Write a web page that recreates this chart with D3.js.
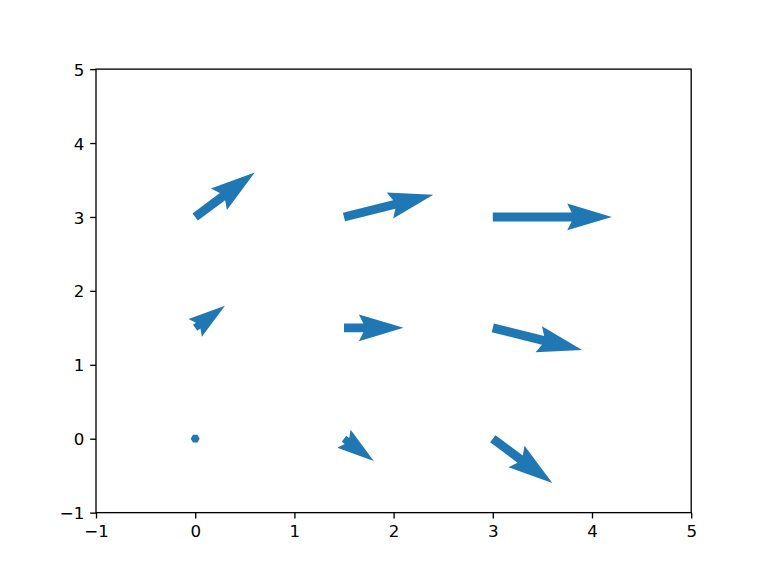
<!DOCTYPE html>
<html>
<head>
<meta charset="utf-8">
<script src="https://cdn.jsdelivr.net/npm/d3@7"></script>
<style>
  html, body { margin: 0; padding: 0; background: #fff; }
  svg { display: block; }
</style>
</head>
<body>
<svg id="chart" width="768" height="576"></svg>
<script>
// Quiver data: tail positions and vector components
const xs = [0, 1.5, 3, 0, 1.5, 3, 0, 1.5, 3];
const ys = [0, 0, 0, 1.5, 1.5, 1.5, 3, 3, 3];
const us = [0, 0.3, 0.6, 0.3, 0.6, 0.9, 0.6, 0.9, 1.2];
const vs = [0, -0.3, -0.6, 0.3, 0, -0.3, 0.6, 0.3, 0];
const xTicks = [-1, 0, 1, 2, 3, 4, 5];
const yTicks = [-1, 0, 1, 2, 3, 4, 5];

(function () {
const W = 768, H = 576;
const padL = 0.125 * W, padR = 0.9 * W, padT = H * (1 - 0.88), padB = H * (1 - 0.11);
const svg = d3.select("#chart");

const x = d3.scaleLinear().domain([-1, 5]).range([padL, padR]);
const y = d3.scaleLinear().domain([-1, 5]).range([padB, padT]);

const color = "#1f77b4";
const shaftW = 0.015 * (padR - padL);
const headwidth = 3, headlength = 5, headaxislength = 4.5, minshaft = 1, minlength = 1;

function arrowPoints(i) {
  const x0 = x(xs[i]), y0 = y(ys[i]);
  const dx = x(xs[i] + us[i]) - x0, dy = y(ys[i] + vs[i]) - y0;
  const L = Math.hypot(dx, dy) / shaftW;
  const ang = Math.atan2(dy, dx);
  let pts;
  const minsh = minshaft * headlength;
  const ii = [0, 1, 2, 3, 2, 1, 0, 0];
  const by = [0.5, 0.5, 0.5 * headwidth, 0];
  if (L < minlength) {
    pts = d3.range(8).map(k => [Math.cos(k * Math.PI / 3) * minlength * 0.5, Math.sin(k * Math.PI / 3) * minlength * 0.5]);
  } else if (L < minsh) {
    const s = L / minsh;
    const bx = [0, minsh - headaxislength, minsh - headlength, minsh];
    pts = ii.map((k, j) => [bx[k] * s, (j >= 3 && j < 7 ? -1 : 1) * by[k] * s]);
  } else {
    const bx = [0, L - headaxislength, L - headlength, L];
    pts = ii.map((k, j) => [bx[k], (j >= 3 && j < 7 ? -1 : 1) * by[k]]);
  }
  const c = Math.cos(ang), s = Math.sin(ang);
  return pts.map(([px, py]) => [x0 + (px * c - py * s) * shaftW, y0 + (px * s + py * c) * shaftW]);
}

svg.append("g")
  .selectAll("path")
  .data(d3.range(xs.length))
  .join("path")
  .attr("d", i => "M" + arrowPoints(i).map(p => p[0] + "," + p[1]).join("L") + "Z")
  .attr("fill", color)
  .attr("stroke", "none");

const fontSize = 16.67, tickLen = 5.83, pad = 5.83, lw = 1.33;
const fmt = d => d < 0 ? "\u2212" + Math.abs(d) : String(d);

const xAxis = svg.append("g").attr("transform", `translate(0,${padB})`)
  .call(d3.axisBottom(x).tickValues(xTicks).tickFormat(fmt).tickSize(tickLen).tickPadding(pad).tickSizeOuter(0));
const yAxis = svg.append("g").attr("transform", `translate(${padL},0)`)
  .call(d3.axisLeft(y).tickValues(yTicks).tickFormat(fmt).tickSize(tickLen).tickPadding(pad).tickSizeOuter(0));

[xAxis, yAxis].forEach(g => {
  g.select(".domain").remove();
  g.selectAll(".tick line").attr("stroke", "#000").attr("stroke-width", lw);
  g.selectAll(".tick text").attr("fill", "#000")
    .style("font-family", "'DejaVu Sans', sans-serif").style("font-size", fontSize + "px");
});
xAxis.selectAll(".tick text").attr("dy", null).attr("y", tickLen + pad + 12.6);
yAxis.selectAll(".tick text").attr("dy", null).attr("y", 6.1);

svg.append("rect")
  .attr("x", padL).attr("y", padT)
  .attr("width", padR - padL).attr("height", padB - padT)
  .attr("fill", "none").attr("stroke", "#000").attr("stroke-width", lw);
})();
</script>
</body>
</html>
